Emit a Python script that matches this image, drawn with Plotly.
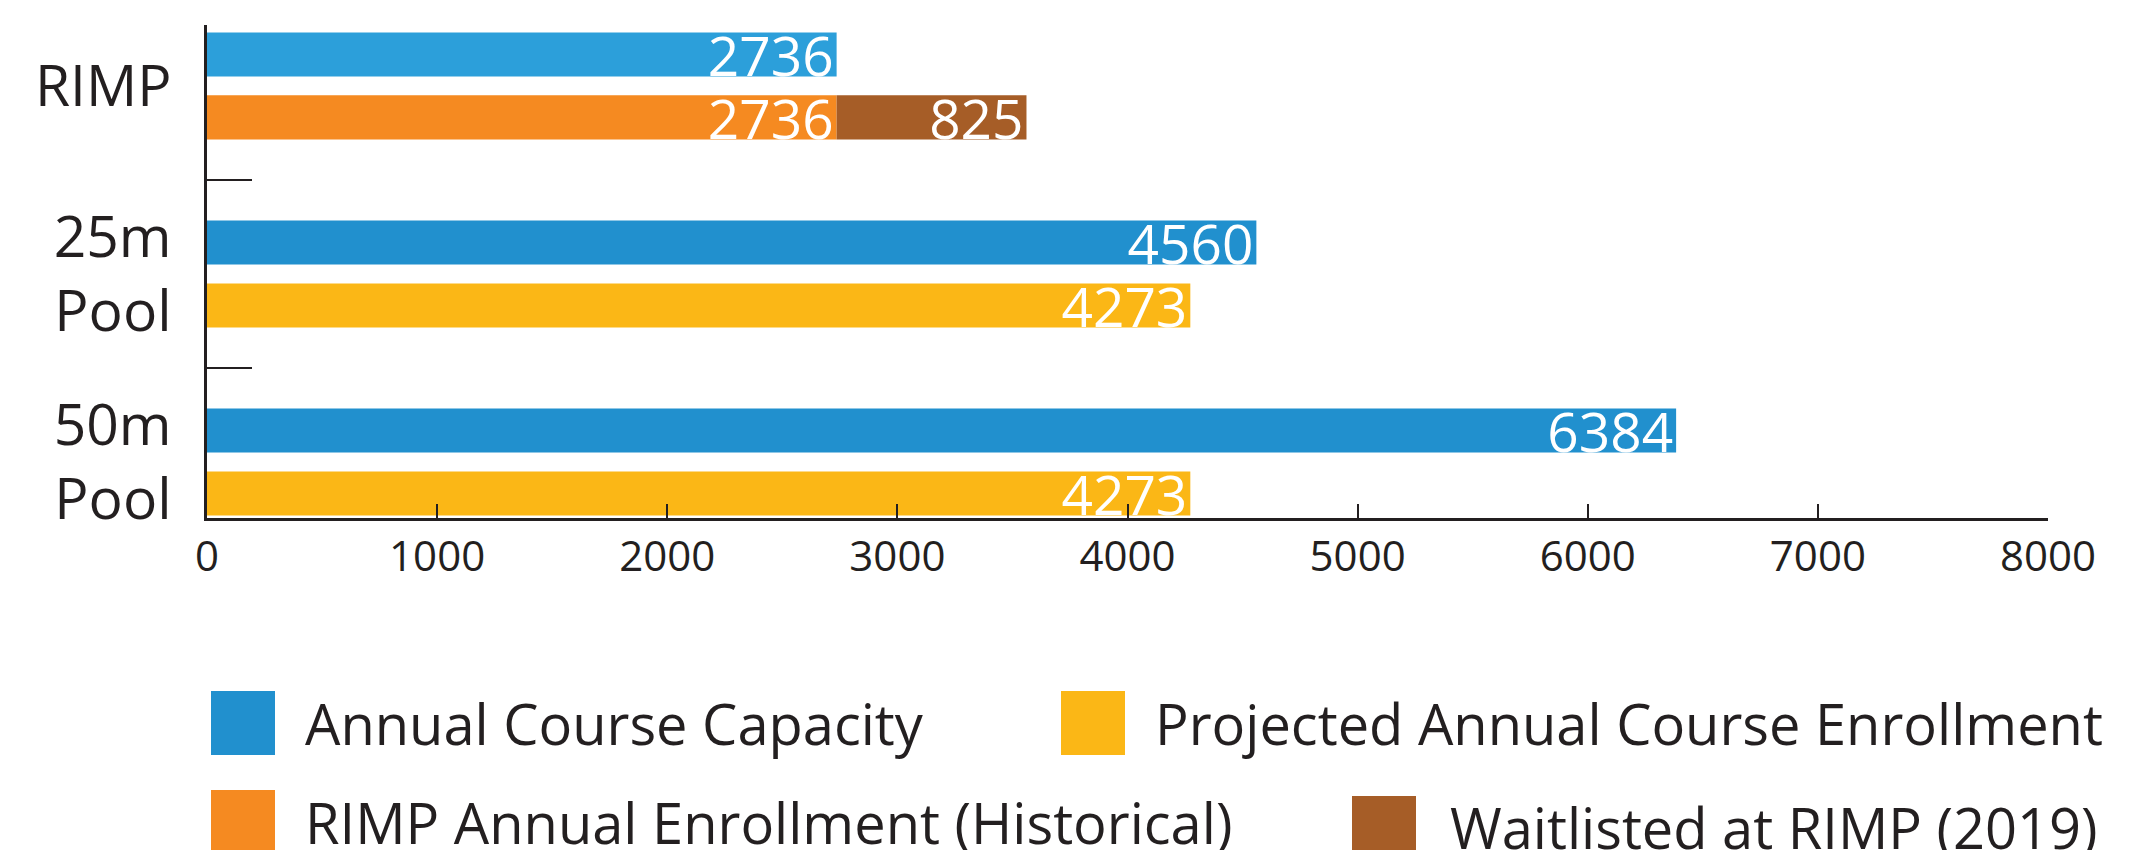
import plotly.graph_objects as go

# Facilities (top to bottom)
facilities = ["RIMP", "25m<br>Pool", "50m<br>Pool"]

# Annual course capacity per facility
capacity = [2736, 4560, 6384]

# Historical RIMP enrollment and 2019 waitlist
rimp_facility = ["RIMP"]
rimp_enrollment = [2736]
rimp_waitlist = [825]

# Projected enrollment for the new pools
pool_facilities = ["25m<br>Pool", "50m<br>Pool"]
projected_enrollment = [4273, 4273]

x_ticks = [0, 1000, 2000, 3000, 4000, 5000, 6000, 7000, 8000]

legend_items = [
    ("Annual Course Capacity", "#2190CE"),
    ("Projected Annual Course Enrollment", "#FBB716"),
    ("RIMP Annual Enrollment (Historical)", "#F58A21"),
    ("Waitlisted at RIMP (2019)", "#A65D27"),
]

INK = "#231F20"
FONT = "Open Sans"

W, H = 2154, 850
ML, MR, MT, MB = 207, 106, 25, 332
PW, PH = W - ML - MR, H - MT - MB


def px_to_paper(px, py):
    return (px - ML) / PW, (H - MB - py) / PH


label_font = dict(family=FONT, size=55, color="white")

fig = go.Figure()

fig.add_trace(go.Bar(
    y=facilities, x=capacity, orientation="h", offsetgroup="cap",
    marker=dict(color=["#2C9FDA", "#2190CE", "#2190CE"], line=dict(width=0)),
    text=[str(v) for v in capacity], textposition="inside", insidetextanchor="end",
    textangle=0, constraintext="none", textfont=label_font,
    name="Annual Course Capacity",
))
fig.add_trace(go.Bar(
    y=rimp_facility, x=rimp_enrollment, orientation="h", offsetgroup="enr",
    marker=dict(color="#F58A21", line=dict(width=0)),
    text=[str(v) for v in rimp_enrollment], textposition="inside", insidetextanchor="end",
    textangle=0, constraintext="none", textfont=label_font,
    name="RIMP Annual Enrollment (Historical)",
))
fig.add_trace(go.Bar(
    y=rimp_facility, x=rimp_waitlist, base=rimp_enrollment, orientation="h", offsetgroup="enr",
    marker=dict(color="#A65D27", line=dict(width=0)),
    text=[str(v) for v in rimp_waitlist], textposition="inside", insidetextanchor="end",
    textangle=0, constraintext="none", textfont=label_font,
    name="Waitlisted at RIMP (2019)",
))
fig.add_trace(go.Bar(
    y=pool_facilities, x=projected_enrollment, orientation="h", offsetgroup="enr",
    marker=dict(color="#FBB716", line=dict(width=0)),
    text=[str(v) for v in projected_enrollment], textposition="inside", insidetextanchor="end",
    textangle=0, constraintext="none", textfont=label_font,
    name="Projected Annual Course Enrollment",
))

# Hand-built legend with large square swatches
legend_pos = [
    (211, 691, 303, 723),
    (1061, 691, 1153, 723),
    (211, 790, 303, 822),
    (1352, 796, 1448, 827),
]
shapes = []
annotations = []
for (label, color), (sx, sy, tx, ty) in zip(legend_items, legend_pos):
    x0, y0 = px_to_paper(sx, sy)
    x1, y1 = px_to_paper(sx + 64, sy + 64)
    shapes.append(dict(type="rect", xref="paper", yref="paper", x0=x0, x1=x1, y0=y1, y1=y0,
                       fillcolor=color, line=dict(width=0), layer="above"))
    ax, ay = px_to_paper(tx, ty)
    annotations.append(dict(text=label, xref="paper", yref="paper", x=ax, y=ay,
                            xanchor="left", yanchor="middle", showarrow=False,
                            font=dict(family=FONT, size=56, color=INK)))

fig.update_layout(
    width=W, height=H,
    margin=dict(l=ML, r=MR, t=MT, b=MB, pad=0),
    paper_bgcolor="white", plot_bgcolor="white",
    barmode="group", bargap=0.33, bargroupgap=0.30,
    showlegend=False,
    font=dict(family=FONT, color=INK),
    shapes=shapes, annotations=annotations,
    xaxis=dict(
        range=[0, 8000], tickvals=x_ticks, ticks="inside", ticklen=14, tickwidth=2,
        tickcolor=INK, showline=True, linecolor=INK, linewidth=2.5,
        showgrid=False, zeroline=False, tickfont=dict(family=FONT, size=42, color=INK),
    ),
    yaxis=dict(
        type="category", categoryorder="array", categoryarray=facilities,
        range=[2.298, -0.324], ticks="inside", tickson="boundaries", ticklen=45,
        tickwidth=2, tickcolor=INK, showline=True, linecolor=INK, linewidth=3,
        showgrid=False, zeroline=False, ticklabelstandoff=21,
        tickfont=dict(family=FONT, size=57, color=INK),
    ),
)

fig.write_html("out.html")
